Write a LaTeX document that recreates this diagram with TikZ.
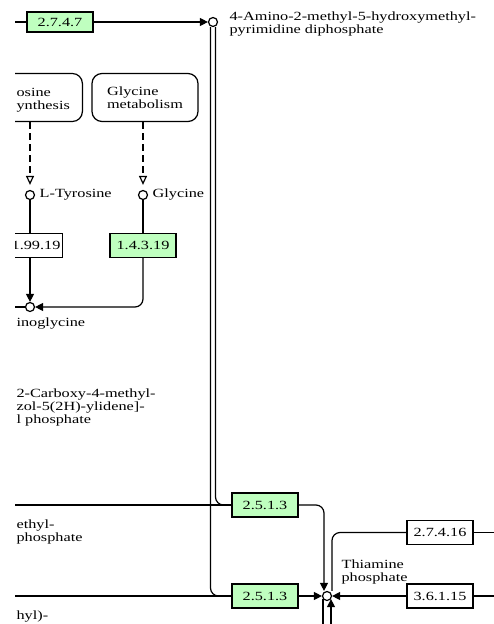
\documentclass[tikz,border=0pt]{standalone}
\usepackage{fontspec}
\setmainfont{Liberation Serif}[FakeStretch=1.3]
\usepackage{tikz}
\usetikzlibrary{arrows.meta,positioning,calc}
\definecolor{enzgreen}{RGB}{191,255,191}
\newcommand{\keggfont}{\fontsize{12.5}{12.8}\selectfont}

\begin{document}
\begin{tikzpicture}[x=1pt,y=-1pt,line width=1.2pt,
    enz/.style={draw,fill=enzgreen,minimum width=66pt,minimum height=24pt,inner sep=0pt,font=\keggfont},
    enzw/.style={enz,fill=white},
    cpd/.style={draw,circle,fill=white,minimum size=9pt,inner sep=0pt},
    mapbox/.style={draw,rounded corners=10pt,minimum height=48pt,align=left,font=\keggfont},
    lbl/.style={font=\keggfont,inner sep=0pt,align=left},
    rxn/.style={-{Triangle[length=8pt,width=8pt]}},
    maplink/.style={dash pattern=on 7pt off 4pt,shorten >=5pt,-{Triangle[open,length=9pt,width=8pt]}}]

    \useasboundingbox (0,0) rectangle (494,624);
    \clip (15,0) rectangle (494,624);

    % top row
    \coordinate (in2747) at (0,22);
    \node[enz,minimum height=20pt] (e2747) at (60,22) {2.7.4.7};
    \node[cpd] (hmppp) at (213,22) {};
    \node[lbl,anchor=north west] (hmpppl) at (229,11) {4-Amino-2-methyl-5-hydroxymethyl-\\pyrimidine diphosphate};

    % pathway maps and amino acids
    \node[mapbox,minimum width=110pt,anchor=east] (tyrmap) at (83,97.5) {};
    \node[lbl,anchor=north west] (tyrmapl) at (16,87.5) {osine\\ynthesis};
    \node[mapbox,minimum width=106pt] (glymap) at (145,97.5) {Glycine\\metabolism};
    \node[cpd] (ltyr) at (30,195) {};
    \node[lbl,right=4pt of ltyr] (ltyrl) {L-Tyrosine};
    \node[cpd] (gly) at (143,195) {};
    \node[lbl,right=4pt of gly] (glyl) {Glycine};
    \node[enzw,anchor=east] (e19919) at (63,245.5) {};
    \node[lbl,anchor=east] (e19919l) at ([xshift=-2pt]e19919.east) {1.99.19};
    \node[enz] (e14319) at (143,245.5) {1.4.3.19};
    \node[cpd] (imgly) at (30,307) {};
    \coordinate (inimgly) at (0,307);
    \node[lbl,anchor=base west] (imglyl) at (16,326) {inoglycine};

    % left side labels
    \node[lbl,anchor=north west] (cmtpl) at (16,388.5) {2-Carboxy-4-methyl-\\zol-5(2H)-ylidene]-\\l phosphate};
    \node[lbl,anchor=north west] (hmtpl) at (16,519.5) {ethyl-\\phosphate};
    \node[lbl,anchor=base west] (hylpl) at (16,619.5) {hyl)-};

    % thiamine phosphate
    \coordinate (in2513a) at (0,505);
    \coordinate (in2513b) at (0,596);
    \node[enz] (e2513a) at (265,505) {2.5.1.3};
    \node[enz] (e2513b) at (265,596) {2.5.1.3};
    \node[cpd] (thmp) at (327,596) {};
    \node[lbl,anchor=north west] (thmpl) at (341,559) {Thiamine\\phosphate};
    \node[enzw] (e27416) at (440,532.5) {2.7.4.16};
    \node[enzw] (e36115) at (440,596) {3.6.1.15};
    \coordinate (out27416) at (494,532.5);
    \coordinate (out36115) at (494,596);
    \coordinate (bot1) at (323,624);
    \coordinate (bot2) at (331,624);

    \draw (in2747) -- (e2747);
    \draw[rxn] (e2747) -- (hmppp);
    \draw[rounded corners=8pt] ([xshift=2.5pt]hmppp.south) |- (e2513a.west);
    \draw[rounded corners=8pt] ([xshift=-2.5pt]hmppp.south) |- (e2513b.west);

    \draw[maplink] (tyrmap.south -| ltyr) -- (ltyr.north);
    \draw[maplink] (glymap.south -| gly) -- (gly.north);
    \draw (ltyr.south) -- (ltyr |- e19919.north);
    \draw (gly.south) -- (e14319.north);
    \draw[rxn] (ltyr |- e19919.south) -- (imgly.north);
    \draw[rxn,rounded corners=8pt] (e14319.south) |- (imgly.east);
    \draw (imgly.west) -- (inimgly);

    \draw (in2513a) -- (e2513a);
    \draw (in2513b) -- (e2513b);
    \draw[rxn,rounded corners=8pt] (e2513a.east) -| ([xshift=-3pt]thmp.north);
    \draw[rxn] (e2513b) -- (thmp);
    \draw[rounded corners=8pt] (e27416.west) -| ([xshift=5pt]thmp.north);
    \draw (e27416) -- (out27416);
    \draw[rxn] (e36115) -- (thmp);
    \draw (e36115) -- (out36115);
    \draw (bot1) -- ([xshift=-4pt,yshift=2pt]thmp.south);
    \draw[rxn] (bot2) -- ([xshift=4pt,yshift=2pt]thmp.south);
\end{tikzpicture}
\end{document}
